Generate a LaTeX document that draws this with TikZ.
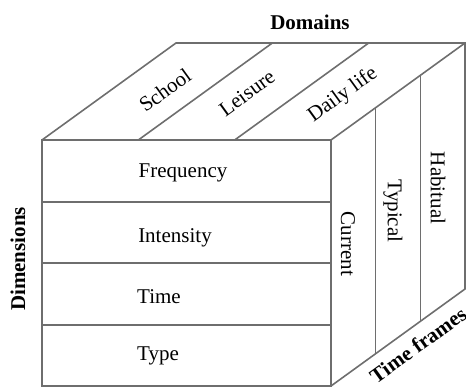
\documentclass[tikz,border=0pt]{standalone}
\usepackage{fontspec}
\setmainfont{Liberation Serif}
\usetikzlibrary{calc}
\begin{document}
\begin{tikzpicture}[x=1pt,y=-1pt,
  edge/.style={draw=black!57, line width=1.6pt, line join=miter},
  lbl/.style={inner sep=0pt, font=\fontsize{21}{25}\selectfont},
  title/.style={lbl, font=\fontsize{21}{25}\selectfont\bfseries}]
\useasboundingbox (0,0) rectangle (466,390);
% corners of the block
\coordinate (A) at (42,140);
\coordinate (B) at (331,140);
\coordinate (C) at (331,386);
\coordinate (D) at (42,386);
\coordinate (E) at (176,43);
\coordinate (F) at (465,43);
\coordinate (G) at (465,289);
% front face split into four rows
\foreach \y [count=\i] in {202,263,325} {
  \coordinate (fl\i) at (42,\y);
  \coordinate (fr\i) at (331,\y);
  \draw[edge] (fl\i) -- (fr\i);
}
% top face split into three domains
\foreach \t [count=\i] in {0.3333,0.6667} {
  \coordinate (tf\i) at ($(A)!\t!(B)$);
  \coordinate (tb\i) at ($(E)!\t!(F)$);
  \draw[edge] (tf\i) -- (tb\i);
}
% side face split into three time frames
\foreach \t [count=\i] in {0.3333,0.6667} {
  \coordinate (st\i) at ($(B)!\t!(F)$);
  \coordinate (sb\i) at ($(C)!\t!(G)$);
  \draw[edge] (st\i) -- (sb\i);
}
% outline
\draw[edge] (A) -- (B) -- (C) -- (D) -- cycle;
\draw[edge] (A) -- (E) -- (F) -- (B);
\draw[edge] (F) -- (G) -- (C);
% labels
\node[title] (dom) at (310,22) {Domains};
\node[title, rotate=90] (dim) at (18,259) {Dimensions};
\node[title, rotate=35.9] (tfr) at (418,345) {Time frames};
\node[lbl, rotate=35.9] (school) at (165,90) {School};
\node[lbl, rotate=35.9] (leisure) at (247,93) {Leisure};
\node[lbl, rotate=35.9] (daily) at (343,95) {Daily life};
\node[lbl] (freq) at (183,173) {Frequency};
\node[lbl] (inten) at (175,238) {Intensity};
\node[lbl] (time) at (159,297) {Time};
\node[lbl] (type) at (158,356) {Type};
\node[lbl, rotate=-90] (cur) at (348,244) {Current};
\node[lbl, rotate=-90] (typ) at (393,211) {Typical};
\node[lbl, rotate=-90] (hab) at (438,188) {Habitual};
\end{tikzpicture}
\end{document}
